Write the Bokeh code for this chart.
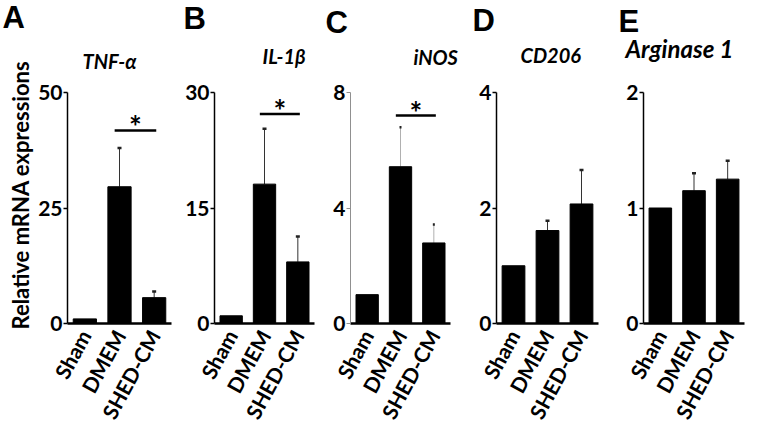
from bokeh.plotting import figure
from bokeh.models import (ColumnDataSource, Whisker, TeeHead, Title, FactorRange,
                          Range1d, FixedTicker)
from bokeh.layouts import row
from bokeh.transform import dodge
from bokeh.core.properties import value
from bokeh.embed import file_html
from bokeh.resources import INLINE

# ---------------- data ----------------
groups = ["Sham", "DMEM", "SHED-CM"]
panel_letters = ["A", "B", "C", "D", "E"]
gene_names = ["TNF-α", "IL-1β", "iNOS", "CD206", "Arginase 1"]
y_max = [50, 30, 8, 4, 2]
y_ticks = [[0, 25, 50], [0, 15, 30], [0, 4, 8], [0, 2, 4], [0, 1, 2]]

tnf_mean = [1.0, 29.6, 5.6]
tnf_err = [0.0, 8.4, 1.3]
il1b_mean = [1.0, 18.1, 8.0]
il1b_err = [0.0, 7.2, 3.3]
inos_mean = [1.0, 5.43, 2.79]
inos_err = [0.0, 1.37, 0.64]
cd206_mean = [1.0, 1.61, 2.07]
cd206_err = [0.0, 0.17, 0.59]
arg1_mean = [1.0, 1.15, 1.25]
arg1_err = [0.0, 0.15, 0.16]

means = [tnf_mean, il1b_mean, inos_mean, cd206_mean, arg1_mean]
errs = [tnf_err, il1b_err, inos_err, cd206_err, arg1_err]
# significance bar (DMEM vs SHED-CM, *) level in data units; None = no bar
sig_level = [41.8, 27.2, 7.2, None, None]

y_label_text = "Relative mRNA expressions"

# ---------------- layout / style ----------------
FIG_H = 432
# fig width, left border, right border, top border, frame height
geom = [
    (178, 67, 7, 90, 233),
    (146, 36, 10, 92, 235),
    (146, 26, 20, 88, 239),
    (147, 26, 19, 90, 237),
    (144, 26, 17, 88, 240),
]
# (offset from frame left, standoff) for gene titles and panel letters
gene_title_pos = [(15, 40), (48, 50), (63, 48), (24, 52), (-18, 60)]
gene_title_size = ["20px", "20px", "20px", "20px", "24px"]
letter_pos = [(-65, -17), (-31, -39), (-25, -43), (-24, -47), (-25, -75)]

FONT = "Lato"
figs = []
for i in range(5):
    w, bl, br, bt, fh = geom[i]
    bb = FIG_H - bt - fh
    p = figure(width=w, height=FIG_H, x_range=FactorRange(factors=groups),
               y_range=Range1d(0, y_max[i]), output_backend="svg",
               toolbar_location=None, min_border_left=bl, min_border_right=br,
               min_border_top=bt, min_border_bottom=bb, title=None)
    p.outline_line_color = None
    p.xgrid.visible = False
    p.ygrid.visible = False
    p.background_fill_color = "white"
    p.border_fill_color = "white"

    gray = (i == 2)
    src = ColumnDataSource(dict(g=groups, m=means[i]))
    p.vbar(x="g", top="m", width=0.67, source=src, fill_color="black",
           line_color="black")

    eg = [g for g, e in zip(groups, errs[i]) if e > 0]
    elo = [m for m, e in zip(means[i], errs[i]) if e > 0]
    ehi = [m + e for m, e in zip(means[i], errs[i]) if e > 0]
    esrc = ColumnDataSource(dict(g=eg, lo=elo, hi=ehi))
    wk = Whisker(source=esrc, base="g", lower="lo", upper="hi",
                 line_color="#b0b0b0" if gray else "#333333", line_width=1,
                 lower_head=None,
                 upper_head=TeeHead(size=2 if gray else 4, line_width=2.5,
                                    line_color="#222222"))
    p.add_layout(wk)

    if sig_level[i] is not None:
        ssrc = ColumnDataSource(dict(a=["DMEM"], b=["SHED-CM"],
                                     lvl=[sig_level[i]], star=["*"]))
        p.segment(x0=dodge("a", -0.14, range=p.x_range), y0="lvl",
                  x1=dodge("b", 0.06, range=p.x_range), y1="lvl",
                  source=ssrc, line_color="black", line_width=2.5)
        p.text(x=dodge("a", 0.46, range=p.x_range), y="lvl", text="star",
               source=ssrc, text_font=value(FONT), text_font_style="bold",
               text_font_size="30px", text_align="center", y_offset=-4,
               text_baseline="alphabetic", text_color="black")

    # axes
    xa = p.xaxis[0]
    xa.axis_line_width = 2.5
    xa.axis_line_color = "black"
    xa.major_tick_line_color = None
    xa.minor_tick_line_color = None
    xa.major_label_orientation = 1.07
    xa.major_label_standoff = 2
    xa.major_label_text_font = FONT
    xa.major_label_text_font_style = "bold"
    xa.major_label_text_font_size = "21px"
    xa.major_label_text_color = "black"

    ya = p.yaxis[0]
    ya.ticker = FixedTicker(ticks=y_ticks[i])
    ya.axis_line_width = 1 if gray else 1.5
    ya.axis_line_color = "#909090" if gray else "black"
    ya.major_tick_out = 4
    ya.major_tick_in = 0
    ya.major_tick_line_width = 1 if gray else 1.5
    ya.major_tick_line_color = "#909090" if gray else "black"
    ya.minor_tick_line_color = None
    ya.major_label_standoff = 1
    ya.major_label_text_font = FONT
    ya.major_label_text_font_style = "bold"
    ya.major_label_text_font_size = "21px"
    ya.major_label_text_color = "black"

    go, gs = gene_title_pos[i]
    p.add_layout(Title(text=gene_names[i], align="left", offset=go, standoff=gs,
                       vertical_align="bottom", text_font=FONT,
                       text_font_style="bold italic",
                       text_font_size=gene_title_size[i],
                       text_color="black"), "above")
    lo_, ls = letter_pos[i]
    p.add_layout(Title(text=panel_letters[i], align="left", offset=lo_,
                       standoff=ls, vertical_align="bottom",
                       text_font="Liberation Sans", text_font_style="bold",
                       text_font_size="31px", text_color="black"), "above")
    if i == 0:
        p.add_layout(Title(text=y_label_text, align="left", offset=-6,
                           standoff=3, vertical_align="bottom", text_font=FONT,
                           text_font_style="bold", text_font_size="22px",
                           text_color="black"), "left")
    figs.append(p)

layout = row(*figs)
open("out.html", "w").write(file_html(layout, INLINE))
